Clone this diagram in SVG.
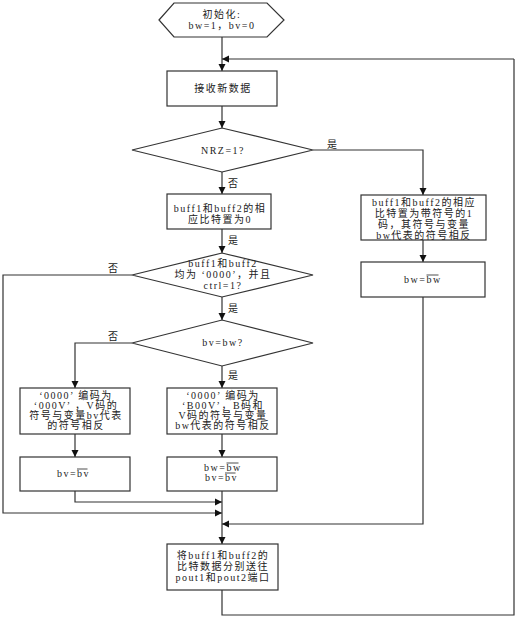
<svg xmlns="http://www.w3.org/2000/svg" width="518" height="618" viewBox="0 0 518 618">
<defs>
<marker id="ah" markerWidth="8" markerHeight="8" refX="7" refY="4" orient="auto" markerUnits="userSpaceOnUse">
<path d="M0,0.5 L7,4 L0,7.5 Z" fill="#111"/>
</marker>
<style>
.n{fill:#fff;stroke:#333;stroke-width:1.2}
.t{font-family:"Liberation Serif","Noto Sans CJK SC",serif;font-size:10px;fill:#222;text-anchor:middle;letter-spacing:1.5px}
.s{font-family:"Liberation Serif","Noto Sans CJK SC",serif;font-size:10px;fill:#222;letter-spacing:1.5px}
.l{font-family:"Liberation Serif","Noto Sans CJK SC",serif;font-size:10px;fill:#222}
.c{fill:none;stroke:#333;stroke-width:1.2}
.a{marker-end:url(#ah)}
.ov{stroke:#222;stroke-width:0.8}
</style>
</defs>
<rect width="518" height="618" fill="#fff"/>
<g id="connectors">
<path class="c a" d="M222,37 V71"/>
<path class="c a" d="M514,59 H222"/>
<path class="c a" d="M222,106 V128"/>
<path class="c a" d="M313,150 H423 V195"/>
<path class="c a" d="M222,172 V194"/>
<path class="c a" d="M222,229 V253"/>
<path class="c a" d="M132,275 H3 V513 H222"/>
<path class="c a" d="M222,297 V320"/>
<path class="c a" d="M132,343 H75 V388"/>
<path class="c a" d="M222,366 V388"/>
<path class="c a" d="M75,434 V457"/>
<path class="c a" d="M222,434 V457"/>
<path class="c a" d="M75,491 V502 H222"/>
<path class="c a" d="M222,491 V544"/>
<path class="c a" d="M423,240 V262"/>
<path class="c a" d="M423,297 V524 H222"/>
<path class="c" d="M222,590 V615 H514 V59"/>
<text class="l" x="327" y="148">是</text>
<text class="l" x="228" y="187">否</text>
<text class="l" x="228" y="244">是</text>
<text class="l" x="108" y="272">否</text>
<text class="l" x="228" y="312">是</text>
<text class="l" x="108" y="340">否</text>
<text class="l" x="228" y="379">是</text>
</g>
<g id="init">
<polygon class="n" points="159,20 174,3 267,3 284,20 267,37 174,37"/>
<text class="t" x="222" y="18">初始化:</text>
<text class="t" x="222" y="29">bw=1，bv=0</text>
</g>
<g id="receive">
<rect class="n" x="167" y="71" width="110" height="35"/>
<text class="t" x="223" y="92">接收新数据</text>
</g>
<g id="nrz">
<polygon class="n" points="132,150 222,128 313,150 222,172"/>
<text class="t" x="223" y="154">NRZ=1?</text>
</g>
<g id="zero">
<rect class="n" x="167" y="194" width="104" height="35"/>
<text class="t" x="220" y="212">buff1和buff2的相</text>
<text class="t" x="220" y="223">应比特置为0</text>
</g>
<g id="check0000">
<polygon class="n" points="132,275 222,253 313,275 222,297"/>
<text class="t" x="223" y="267">buff1和buff2</text>
<text class="t" x="223" y="278">均为 ‘0000’，并且</text>
<text class="t" x="223" y="289">ctrl=1?</text>
</g>
<g id="bvbw">
<polygon class="n" points="132,343 222,320 313,343 222,366"/>
<text class="t" x="223" y="346">bv=bw?</text>
</g>
<g id="enc000v">
<rect class="n" x="20" y="388" width="110" height="46"/>
<text class="t" x="76" y="399">‘0000’ 编码为</text>
<text class="t" x="76" y="409">‘000V’ ，V码的</text>
<text class="t" x="76" y="419">符号与变量bv代表</text>
<text class="t" x="76" y="429">的符号相反</text>
</g>
<g id="encb00v">
<rect class="n" x="167" y="388" width="110" height="46"/>
<text class="t" x="223" y="399">‘0000’ 编码为</text>
<text class="t" x="223" y="409">‘B00V’，B码和</text>
<text class="t" x="223" y="419">V码的符号与变量</text>
<text class="t" x="223" y="429">bw代表的符号相反</text>
</g>
<g id="invbv">
<rect class="n" x="20" y="457" width="110" height="34"/>
<text class="s" x="57" y="477">bv=</text>
<text class="s" x="77" y="477">bv</text>
<line class="ov" x1="77" y1="469" x2="87.5" y2="469"/>
</g>
<g id="invboth">
<rect class="n" x="167" y="457" width="110" height="34"/>
<text class="s" x="204" y="471">bw=</text>
<text class="s" x="226.5" y="471">bw</text>
<line class="ov" x1="226.5" y1="463" x2="238.5" y2="463"/>
<text class="s" x="205" y="481">bv=</text>
<text class="s" x="225" y="481">bv</text>
<line class="ov" x1="225" y1="473" x2="235.5" y2="473"/>
</g>
<g id="sign1">
<rect class="n" x="361" y="195" width="125" height="45"/>
<text class="t" x="424" y="206">buff1和buff2的相应</text>
<text class="t" x="424" y="217">比特置为带符号的1</text>
<text class="t" x="424" y="228">码，其符号与变量</text>
<text class="t" x="424" y="239">bw代表的符号相反</text>
</g>
<g id="invbw">
<rect class="n" x="361" y="262" width="124" height="35"/>
<text class="s" x="404" y="283">bw=</text>
<text class="s" x="426.5" y="283">bw</text>
<line class="ov" x1="426.5" y1="275" x2="438.5" y2="275"/>
</g>
<g id="output">
<rect class="n" x="167" y="544" width="111" height="46"/>
<text class="t" x="223" y="559">将buff1和buff2的</text>
<text class="t" x="223" y="570">比特数据分别送往</text>
<text class="t" x="223" y="581">pout1和pout2端口</text>
</g>
</svg>
